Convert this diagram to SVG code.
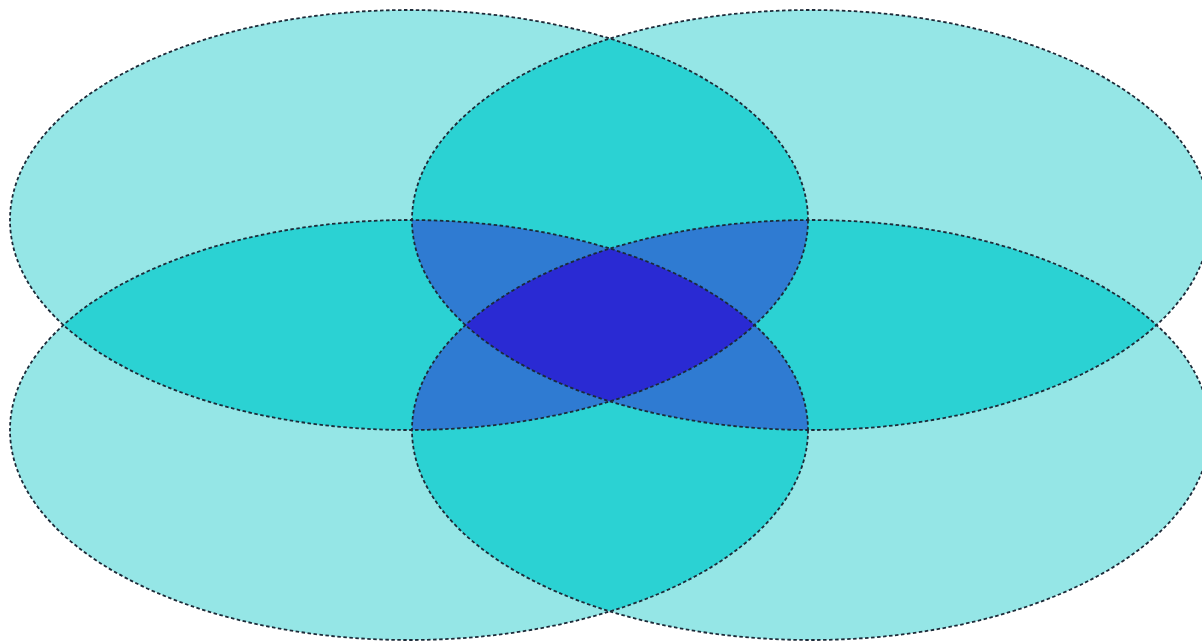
<svg xmlns="http://www.w3.org/2000/svg" width="1202" height="642" viewBox="0 0 1202 642">
<style>
.s{fill:#95e6e6}.d{fill:#2bd2d3}.t{fill:#2f7bd2}.q{fill:#2a2ad3}
.o{fill:none;stroke:#1c2a38;stroke-width:1.8;stroke-dasharray:3.5 2.5}
</style>
<defs>
<ellipse id="A" cx="409" cy="220" rx="399" ry="210"/>
<ellipse id="B" cx="811" cy="220" rx="399" ry="210"/>
<ellipse id="C" cx="409" cy="430" rx="399" ry="210"/>
<ellipse id="D" cx="811" cy="430" rx="399" ry="210"/>
<clipPath id="cA"><use href="#A"/></clipPath>
<clipPath id="cB"><use href="#B"/></clipPath>
<clipPath id="cC"><use href="#C"/></clipPath>
<clipPath id="cD"><use href="#D"/></clipPath>
</defs>
<rect width="1202" height="642" fill="#ffffff"/>
<g id="fills">
<use href="#A" class="s"/><use href="#B" class="s"/><use href="#C" class="s"/><use href="#D" class="s"/>
<g class="d">
<use href="#A" clip-path="url(#cB)"/>
<use href="#A" clip-path="url(#cC)"/>
<use href="#A" clip-path="url(#cD)"/>
<use href="#B" clip-path="url(#cC)"/>
<use href="#B" clip-path="url(#cD)"/>
<use href="#C" clip-path="url(#cD)"/>
</g>
<g class="t">
<g clip-path="url(#cA)"><use href="#B" clip-path="url(#cC)"/><use href="#B" clip-path="url(#cD)"/><use href="#C" clip-path="url(#cD)"/></g>
<g clip-path="url(#cB)"><use href="#C" clip-path="url(#cD)"/></g>
</g>
<g class="q" clip-path="url(#cA)"><g clip-path="url(#cB)"><use href="#C" clip-path="url(#cD)"/></g></g>
</g>
<g id="ellipse-top-left"><use href="#A" class="o"/></g>
<g id="ellipse-top-right"><use href="#B" class="o"/></g>
<g id="ellipse-bottom-left"><use href="#C" class="o"/></g>
<g id="ellipse-bottom-right"><use href="#D" class="o"/></g>
</svg>
